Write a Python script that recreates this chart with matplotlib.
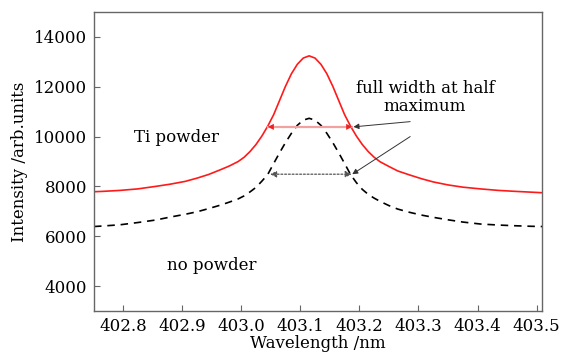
import matplotlib.pyplot as plt
import numpy as np

# wavelength (nm) and intensity
ti_wl = [402.751, 402.765, 402.795, 402.825, 402.855, 402.880, 402.905, 402.925,
         402.945, 402.965, 402.980, 402.995, 403.005, 403.015, 403.025, 403.035,
         403.045, 403.055, 403.065, 403.075, 403.085, 403.095, 403.105, 403.115,
         403.125, 403.135, 403.145, 403.155, 403.165, 403.175, 403.185, 403.195,
         403.205, 403.215, 403.225, 403.235, 403.250, 403.265, 403.285, 403.305,
         403.325, 403.350, 403.375, 403.405, 403.435, 403.465, 403.490, 403.509]
ti_int = [7787, 7800, 7840, 7900, 8000, 8090, 8200, 8330,
          8480, 8670, 8820, 9000, 9170, 9400, 9680, 10020,
          10420, 10880, 11450, 12020, 12520, 12900, 13150, 13240,
          13150, 12900, 12520, 12020, 11450, 10880, 10420, 10020,
          9680, 9400, 9170, 8990, 8800, 8620, 8460, 8310,
          8180, 8060, 7970, 7900, 7840, 7800, 7770, 7747]

no_wl = [402.751, 402.765, 402.795, 402.825, 402.855, 402.880, 402.905, 402.925,
         402.945, 402.965, 402.980, 402.995, 403.005, 403.015, 403.025, 403.035,
         403.045, 403.055, 403.065, 403.075, 403.085, 403.095, 403.105, 403.115,
         403.125, 403.135, 403.145, 403.155, 403.165, 403.175, 403.185, 403.195,
         403.205, 403.215, 403.225, 403.235, 403.250, 403.265, 403.285, 403.305,
         403.325, 403.350, 403.375, 403.405, 403.435, 403.465, 403.490, 403.509]
no_int = [6390, 6410, 6460, 6550, 6650, 6770, 6880, 6980,
          7110, 7250, 7370, 7500, 7620, 7780, 7960, 8210,
          8480, 8920, 9350, 9760, 10130, 10450, 10660, 10733,
          10660, 10450, 10130, 9760, 9350, 8920, 8480, 8150,
          7880, 7680, 7530, 7400, 7230, 7090, 6960, 6850,
          6760, 6660, 6570, 6490, 6450, 6420, 6400, 6390]

# FWHM markers (left end, right end, level)
ti_fwhm = (403.045, 403.188, 10390)
no_fwhm = (403.049, 403.187, 8490)

xticks = [402.8, 402.9, 403.0, 403.1, 403.2, 403.3, 403.4, 403.5]
yticks = [4000, 6000, 8000, 10000, 12000, 14000]

plt.rcParams['font.family'] = ['DejaVu Serif']
plt.rcParams['font.size'] = 12

fig = plt.figure(figsize=(5.67, 3.59), dpi=100)
ax = fig.add_axes([0.1658, 0.1337, 0.7906, 0.8329])

ax.plot(ti_wl, ti_int, color='#ff1a1a', lw=1.2)
ax.plot(no_wl, no_int, color='black', lw=1.2, dashes=(4.5, 3.5))

# red FWHM arrow: pale shaft, red heads
ax.plot([ti_fwhm[0], ti_fwhm[1]], [ti_fwhm[2], ti_fwhm[2]], color='#f2a0a0', lw=1.6)
for a, b in [(ti_fwhm[0], ti_fwhm[0] + 0.03), (ti_fwhm[1], ti_fwhm[1] - 0.03)]:
    ax.annotate('', xy=(a, ti_fwhm[2]), xytext=(b, ti_fwhm[2]),
                arrowprops=dict(arrowstyle='-|>', color='#ee2222', lw=0,
                                mutation_scale=11, shrinkA=0, shrinkB=0))

# black dotted FWHM arrow
ax.annotate('', xy=(no_fwhm[0], no_fwhm[2]), xytext=(no_fwhm[1], no_fwhm[2]),
            arrowprops=dict(arrowstyle='<|-|>', color='#555555', lw=0.9, ls=(0, (1.5, 1.5)),
                            mutation_scale=9, shrinkA=0, shrinkB=0))

# annotation text and pointers
ax.text(403.311, 11560, 'full width at half\nmaximum', ha='center', va='center',
        fontsize=12, linespacing=1.1)
ax.annotate('', xy=(ti_fwhm[1] + 0.002, ti_fwhm[2]), xytext=(403.286, 10600),
            arrowprops=dict(arrowstyle='-|>', color='#333333', lw=0.7,
                            mutation_scale=8, shrinkA=0, shrinkB=0))
ax.annotate('', xy=(no_fwhm[1] + 0.001, no_fwhm[2]), xytext=(403.286, 10000),
            arrowprops=dict(arrowstyle='-|>', color='#333333', lw=0.7,
                            mutation_scale=8, shrinkA=0, shrinkB=0))

ax.text(402.891, 9960, 'Ti powder', ha='center', va='center', fontsize=12)
ax.text(402.951, 4840, 'no powder', ha='center', va='center', fontsize=12)

ax.set_xlim(402.751, 403.5095)
ax.set_ylim(3000, 15000)
ax.set_xticks(xticks)
ax.set_xticklabels(['%.1f' % t for t in xticks])
ax.set_yticks(yticks)
ax.tick_params(direction='in', length=4, color='#666666', labelsize=12, pad=5)
for s in ax.spines.values():
    s.set_color('#666666')
    s.set_linewidth(1.0)

ax.set_xlabel('Wavelength /nm', fontsize=12, labelpad=0)
ax.set_ylabel('Intensity /arb.units', fontsize=12, labelpad=4)

fig.savefig('out.png', dpi=100)
